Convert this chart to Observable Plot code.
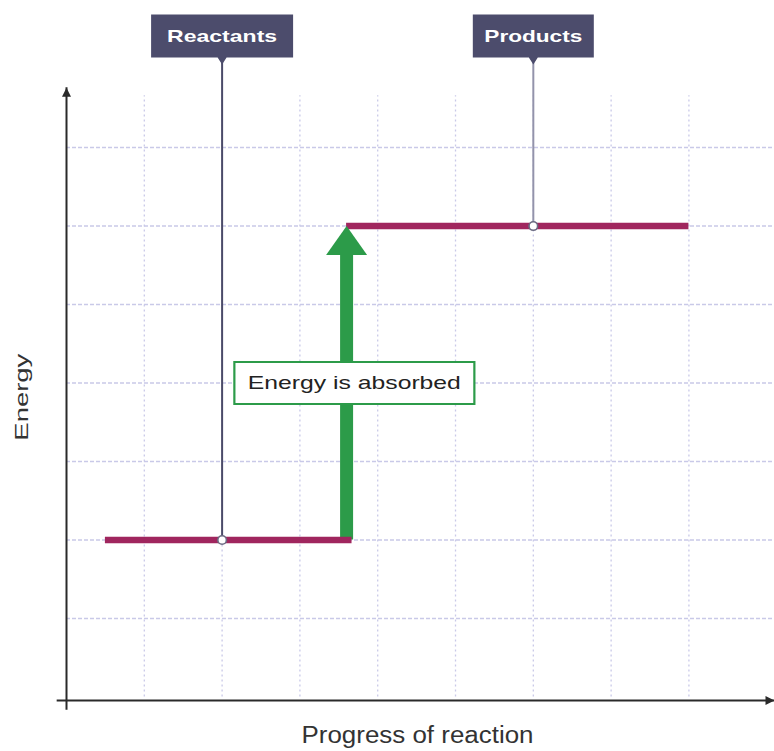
<!DOCTYPE html>
<html>
<head>
<meta charset="utf-8">
<script src="https://cdn.jsdelivr.net/npm/d3@7"></script>
<script src="https://cdn.jsdelivr.net/npm/@observablehq/plot@0.6"></script>
<style>
  html, body { margin: 0; padding: 0; background: #ffffff; }
  #chart { width: 774px; height: 751px; overflow: hidden; }
</style>
</head>
<body>
<div id="chart"></div>
<script>
// ---------- data ----------
const xGrid = [1, 2, 3, 4, 5, 6, 7, 8];
const yGrid = [1, 2, 3, 4, 5, 6, 7];
const stageNames = ["Reactants", "Products"];
const stageEnergy = [2, 6];
const stageStart = [0.5, 3.6];
const stageEnd = [3.67, 8];
const stageLabelX = [2, 6];
const arrowX = 3.6;
const arrowFrom = 2;
const arrowTo = 6;
const arrowLabel = "Energy is absorbed";
const arrowLabelX = 3.7;
const arrowLabelY = 4;
const xTitle = "Progress of reaction";
const yTitle = "Energy";

// ---------- layout constants ----------
const xMax = 9.1, yMax = 8.873, yAxisTop = 7.76, gridTop = 7.66;
const stageLabelY = 8.42;
const yTitleY = 3.82;

const stages = stageNames.map((name, i) => ({
  name, energy: stageEnergy[i], x1: stageStart[i], x2: stageEnd[i], labelX: stageLabelX[i],
  lineColor: i === 0 ? "#4b4b69" : "#9393ab"
}));

// custom symbols (pixel shapes)
const labelBox = (w, h) => ({ draw(ctx) {
  ctx.moveTo(-w / 2, -h / 2); ctx.lineTo(w / 2, -h / 2); ctx.lineTo(w / 2, h / 2);
  ctx.lineTo(4.5, h / 2); ctx.lineTo(0, h / 2 + 7); ctx.lineTo(-4.5, h / 2);
  ctx.lineTo(-w / 2, h / 2); ctx.closePath();
}});
const rectSym = (w, h) => ({ draw(ctx) { ctx.rect(-w / 2, -h / 2, w, h); } });
const headUp = (hw, hh) => ({ draw(ctx) {
  ctx.moveTo(0, 0); ctx.lineTo(hw, hh); ctx.lineTo(-hw, hh); ctx.closePath();
}});
const headRight = (hw, hh) => ({ draw(ctx) {
  ctx.moveTo(0, 0); ctx.lineTo(-hh, hw); ctx.lineTo(-hh, -hw); ctx.closePath();
}});

const font = "'Liberation Sans', Arial, sans-serif";
const gridColor = "#c9c9e8";
const magenta = "#a0265e";
const green = "#2c9b49";

const plot = Plot.plot({
  width: 774,
  height: 751,
  marginLeft: 66,
  marginRight: 0,
  marginTop: 0,
  marginBottom: 54.5,
  x: { domain: [0, xMax], axis: null },
  y: { domain: [0, yMax], axis: null },
  color: { type: "identity" },
  style: { background: "#ffffff", fontFamily: font, overflow: "visible" },
  marks: [
    // grid
    Plot.ruleX(xGrid, { x: d => d, y1: 0, y2: gridTop, stroke: gridColor, strokeWidth: 1.3, strokeDasharray: "2,3" }),
    Plot.ruleY(yGrid, { y: d => d, x1: 0, x2: xMax, stroke: gridColor, strokeWidth: 1.3, strokeDasharray: "4,2" }),
    // axes
    Plot.ruleX([0], { x: d => d, y1: -0.17, y2: yAxisTop, stroke: "#2a2a2a", strokeWidth: 2 }),
    Plot.ruleY([0], { y: d => d, x1: -0.12, x2: xMax, dy: 3.5, stroke: "#2a2a2a", strokeWidth: 2.2 }),
    Plot.dot([0], { x: d => d, y: yAxisTop, symbol: headUp(4.5, 9), fill: "#2a2a2a", stroke: "none" }),
    Plot.dot([xMax], { x: d => d, y: 0, dy: 3.5, symbol: headRight(4.5, 9), fill: "#2a2a2a", stroke: "none" }),
    // connectors from labels to levels
    Plot.ruleX(stages, { x: "labelX", y1: "energy", y2: stageLabelY, stroke: "lineColor", strokeWidth: 2 }),
    // arrow shaft
    Plot.ruleX([arrowX], { x: d => d, y1: arrowFrom, y2: arrowTo - 0.3, stroke: green, strokeWidth: 13 }),
    // energy levels
    Plot.ruleY(stages, { y: "energy", x1: "x1", x2: "x2", stroke: magenta, strokeWidth: 6.5 }),
    // arrow head
    Plot.dot([arrowX], { x: d => d, y: arrowTo, symbol: headUp(20.5, 29), fill: green, stroke: "none" }),
    // circles at intersections
    Plot.dot(stages, { x: "labelX", y: "energy", r: 4.3, fill: "#ffffff", stroke: "#6b6b82", strokeWidth: 1.6 }),
    // label boxes
    Plot.dot(stages.filter((d, i) => i === 0), { x: "labelX", y: stageLabelY, symbol: labelBox(142, 43), fill: "#4c4c6c", stroke: "none" }),
    Plot.dot(stages.filter((d, i) => i === 1), { x: "labelX", y: stageLabelY, symbol: labelBox(121, 43), fill: "#4c4c6c", stroke: "none" }),
    Plot.text(stages, { x: "labelX", y: stageLabelY, text: "name", fill: "#ffffff", fontSize: 17, fontWeight: "bold" }),
    // energy absorbed label
    Plot.dot([arrowLabel], { x: arrowLabelX, y: arrowLabelY, symbol: rectSym(240, 42), fill: "#ffffff", stroke: green, strokeWidth: 2.2 }),
    Plot.text([arrowLabel], { x: arrowLabelX, y: arrowLabelY, text: d => d, fill: "#222222", fontSize: 19 }),
    // axis titles
    Plot.text([xTitle], { frameAnchor: "bottom", text: d => d, dy: 46, dx: -3, fill: "#333333", fontSize: 23 }),
    Plot.text([yTitle], { x: 0, y: yTitleY, text: d => d, rotate: -90, dx: -45, fill: "#333333", fontSize: 19 })
  ]
});

// stretch texts to the widths seen in the picture
const fitWidths = { "Reactants": 110, "Products": 98, "Energy is absorbed": 213, "Progress of reaction": 232, "Energy": 87 };
plot.querySelectorAll("text").forEach(t => {
  const w = fitWidths[t.textContent.trim()];
  if (w) { t.setAttribute("textLength", w); t.setAttribute("lengthAdjust", "spacingAndGlyphs"); }
});

document.getElementById("chart").appendChild(plot);
</script>
</body>
</html>
